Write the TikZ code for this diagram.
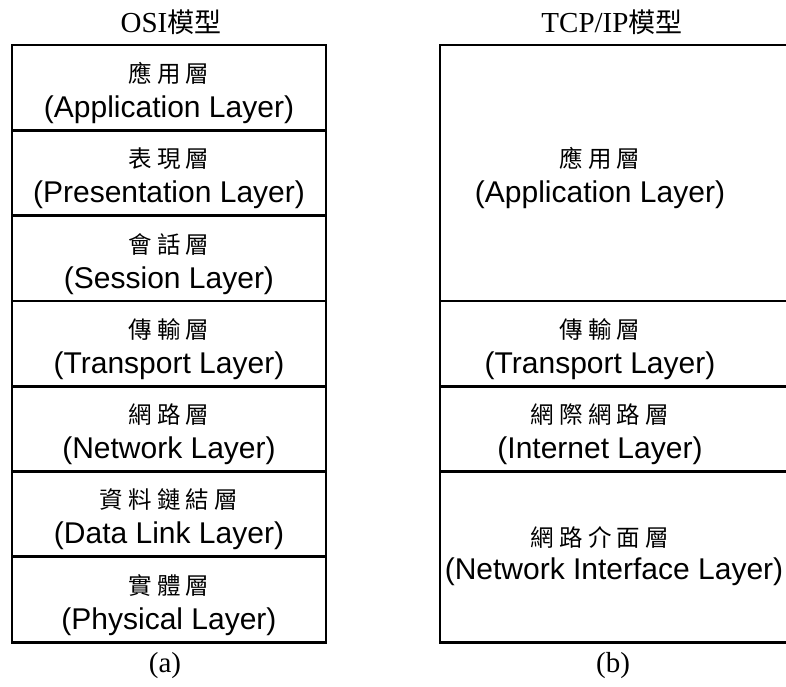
\documentclass[tikz,border=0pt]{standalone}
\usepackage{fontspec}
\setmainfont{Liberation Serif}
\newfontfamily\arialf{Liberation Sans}
\newfontfamily\cjk[LetterSpace=22]{Noto Sans CJK TC}
\newfontfamily\cjkt{Noto Sans CJK TC}
\newcommand{\zh}[1]{{\cjk\fontsize{23.5}{35}\selectfont #1}}
\newcommand{\en}[1]{{\arialf\fontsize{30}{35}\selectfont #1}}
\begin{document}
\begin{tikzpicture}[x=1pt,y=-1pt,
  layer/.style={draw, line width=2.8pt, minimum width=314pt, minimum height=85.3pt, inner sep=0pt, anchor=north, outer sep=0pt},
  txt/.style={align=center, inner sep=0pt, font=\fontsize{30}{35}\selectfont},
  title/.style={inner sep=0pt, font=\fontsize{29}{32}\selectfont}]
\useasboundingbox (0,0) rectangle (786,686);
% OSI column
\node[title] (ta) at (171,22) {OSI{\cjkt\fontsize{27}{32}\selectfont 模型}};
\node[layer] (o1) at (169,45) {};
\node[layer] (o2) at (169,130.3) {};
\node[layer] (o3) at (169,215.6) {};
\node[layer] (o4) at (169,300.9) {};
\node[layer] (o5) at (169,386.2) {};
\node[layer] (o6) at (169,471.5) {};
\node[layer] (o7) at (169,556.8) {};
\node[txt] (l1) at ([yshift=-5.5pt]o1.center) {\zh{應用層}\\\en{(Application Layer)}};
\node[txt] (l2) at ([yshift=-5.5pt]o2.center) {\zh{表現層}\\\en{(Presentation Layer)}};
\node[txt] (l3) at ([yshift=-5.5pt]o3.center) {\zh{會話層}\\\en{(Session Layer)}};
\node[txt] (l4) at ([yshift=-5.5pt]o4.center) {\zh{傳輸層}\\\en{(Transport Layer)}};
\node[txt] (l5) at ([yshift=-5.5pt]o5.center) {\zh{網路層}\\\en{(Network Layer)}};
\node[txt] (l6) at ([yshift=-5.5pt]o6.center) {\zh{資料鏈結層}\\\en{(Data Link Layer)}};
\node[txt] (l7) at ([yshift=-5.5pt]o7.center) {\zh{實體層}\\\en{(Physical Layer)}};
\node[title] (ca) at (165,666) {(a)};
% TCP/IP column
\node[title] (tb) at (612,22) {TCP/IP{\cjkt\fontsize{27}{32}\selectfont 模型}};
\node[layer, minimum width=350pt, minimum height=255.9pt] (t1) at (615,45) {};
\node[layer, minimum width=350pt] (t2) at (615,300.9) {};
\node[layer, minimum width=350pt] (t3) at (615,386.2) {};
\node[layer, minimum width=350pt, minimum height=170.6pt] (t4) at (615,471.5) {};
\node[txt] (r1) at (600,178.5) {\zh{應用層}\\\en{(Application Layer)}};
\node[txt] (r2) at (600,349) {\zh{傳輸層}\\\en{(Transport Layer)}};
\node[txt] (r3) at (600,434.5) {\zh{網際網路層}\\\en{(Internet Layer)}};
\node[txt] (r4a) at (600,537) {\zh{網路介面層}};
\node[txt] (r4b) at (614,572) {\en{(Network Interface Layer)}};
\node[title] (cb) at (613,666) {(b)};
\end{tikzpicture}
\end{document}
